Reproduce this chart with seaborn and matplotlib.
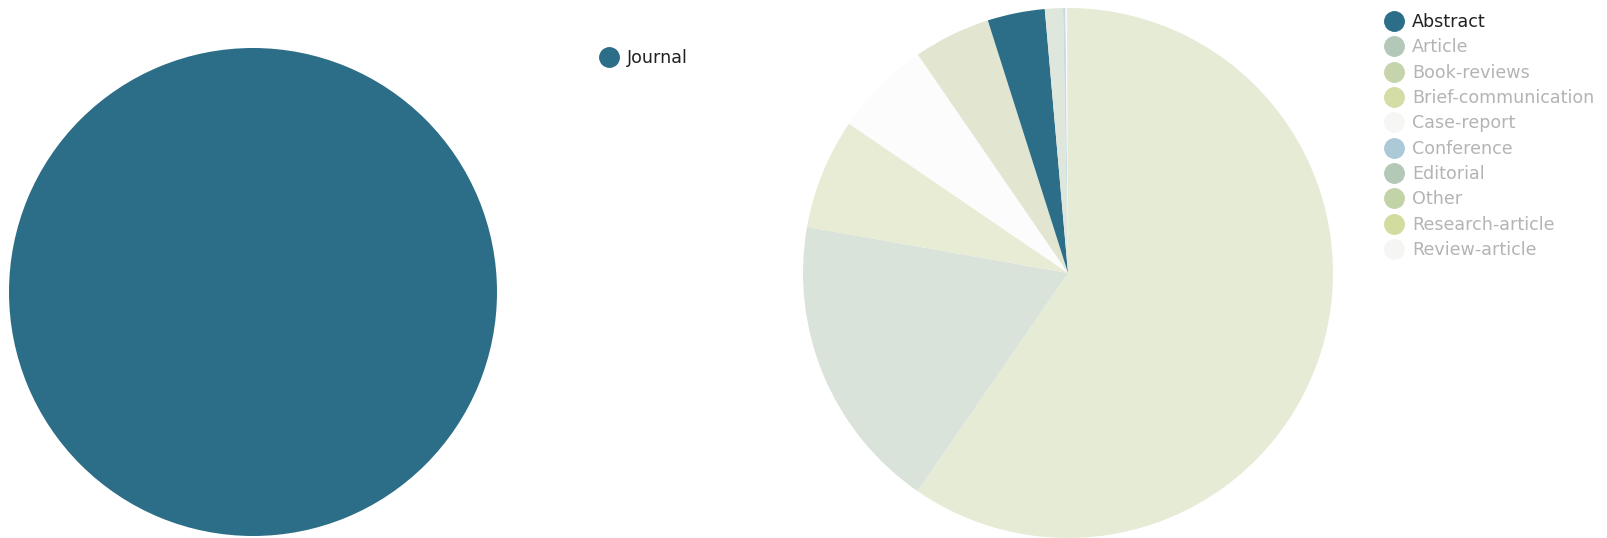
import matplotlib
matplotlib.use("Agg")
import matplotlib.pyplot as plt
from matplotlib.lines import Line2D
import seaborn as sns
import pandas as pd

# ---- data ----
left_categories = ["Journal"]
left_values = [100]

right_categories = ["Abstract", "Article", "Book-reviews", "Brief-communication",
                    "Case-report", "Conference", "Editorial", "Other",
                    "Research-article", "Review-article"]
right_values = [3.5, 18.2, 4.7, 6.75, 5.9, 0.15, 1.1, 0.05, 59.7, 0.1]

# ---- style ----
left_colors = ["#2c6d87"]
legend_colors = ["#2c6d87", "#b3c8b9", "#c6d4ac", "#d4dda6", "#f6f7f4",
                 "#acc9d7", "#b3c8b6", "#c3d3a8", "#d2dc9f", "#f5f6f3"]
slice_colors = ["#2c6d87", "#d9e3da", "#e2e6d1", "#e8ecd5", "#fcfcfc",
                "#c8dbe3", "#dfe7dc", "#e0e8d4", "#e6ebd6", "#fafafa"]
highlight = "Abstract"

sns.set_theme(style="white")
plt.rcParams["font.family"] = ["DejaVu Sans"]

W, H = 1608, 538
fig = plt.figure(figsize=(W / 100, H / 100), dpi=100)

def px_axes(left, top, size):
    return fig.add_axes([left / W, (H - top - size) / H, size / W, size / H])

# left pie
ax1 = px_axes(9, 48, 488)
ax1.pie(left_values, colors=left_colors, startangle=90, counterclock=False,
        wedgeprops=dict(linewidth=0))
ax1.set_xlim(-1, 1)
ax1.set_ylim(-1, 1)
ax1.set_axis_off()

# right pie (sorted descending, clockwise from top)
df = pd.DataFrame({"cat": right_categories, "val": right_values,
                   "color": slice_colors})
df_sorted = df.sort_values("val", ascending=False)
ax2 = px_axes(803, 8, 530)
ax2.pie(df_sorted["val"], colors=df_sorted["color"], startangle=90,
        counterclock=False, wedgeprops=dict(linewidth=0))
ax2.set_xlim(-1, 1)
ax2.set_ylim(-1, 1)
ax2.set_axis_off()

fs = 12.6

def make_handles(colors):
    return [Line2D([], [], marker="o", linestyle="", markersize=14,
                   markerfacecolor=c, markeredgecolor=c) for c in colors]

leg1 = fig.legend(make_handles(left_colors), left_categories, loc="upper left",
                  bbox_to_anchor=(599 / W, (H - 49) / H), frameon=False,
                  fontsize=fs, borderpad=0, borderaxespad=0, handlelength=1.1,
                  handletextpad=0.5, labelspacing=0.42)
for t in leg1.get_texts():
    t.set_color("#222222")

leg2 = fig.legend(make_handles(legend_colors), right_categories, loc="upper left",
                  bbox_to_anchor=(1384 / W, (H - 13) / H), frameon=False,
                  fontsize=fs, borderpad=0, borderaxespad=0, handlelength=1.1,
                  handletextpad=0.5, labelspacing=0.42)
for t, cat in zip(leg2.get_texts(), right_categories):
    t.set_color("#222222" if cat == highlight else "#b4b4b4")

fig.savefig("out.png", dpi=100)
